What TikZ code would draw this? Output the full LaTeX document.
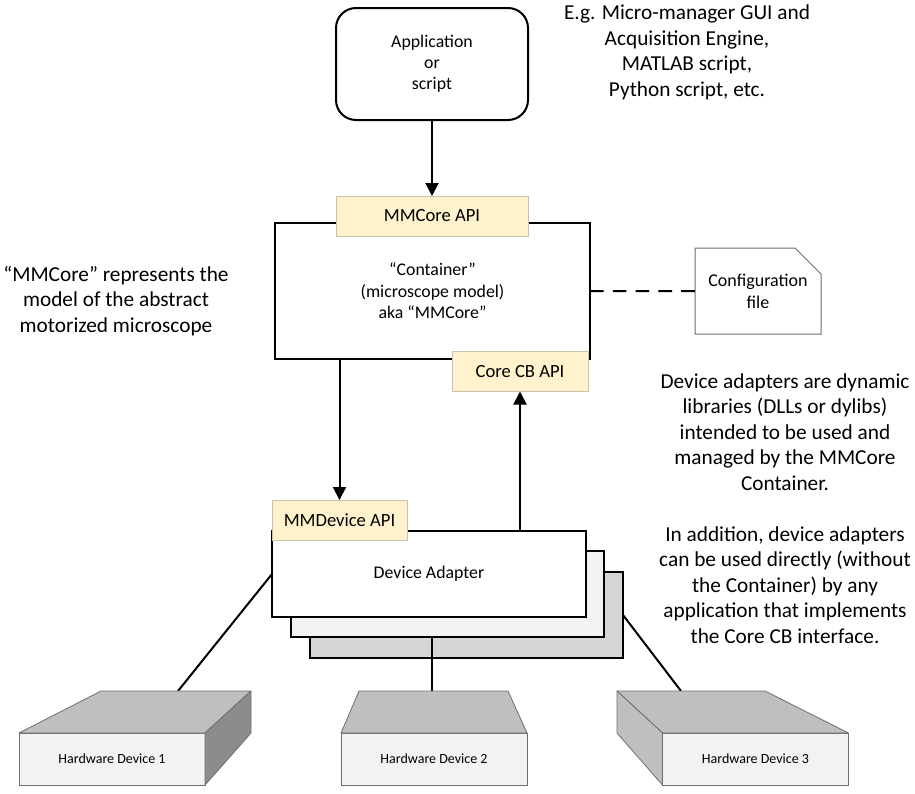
\documentclass[tikz,border=0pt]{standalone}
\usepackage{fontspec}
\setmainfont{Carlito}
\usetikzlibrary{arrows.meta,shapes.misc}

\definecolor{apifill}{HTML}{FFF2CC}
\definecolor{apiline}{HTML}{C9C3AE}
\definecolor{hwline}{HTML}{6E6E6E}

\tikzset{
    box size/.style 2 args={minimum width=#1*.5pt, minimum height=#2*.5pt},
    plainbox/.style={draw=black, line width=1pt, fill=white, inner sep=0pt, outer sep=0pt, align=center, font=\fontsize{8.9}{10.7}\selectfont},
    apibox/.style={draw=apiline, line width=.5pt, fill=apifill, inner sep=0pt, outer sep=0pt, font=\fontsize{9.3}{11}\selectfont},
    filebox/.style={draw=hwline, line width=.5pt, fill=white, inner sep=0pt, outer sep=0pt, align=center, chamfered rectangle, chamfered rectangle corners=north east, chamfered rectangle xsep=6.5pt, chamfered rectangle ysep=6.5pt, font=\fontsize{9}{11}\selectfont},
    note/.style={align=center, inner sep=0pt, font=\fontsize{10.65}{12.75}\selectfont},
    hwfront/.style={draw=hwline, line width=.4pt, fill=black!5, inner sep=0pt, outer sep=0pt, font=\fontsize{7}{8}\selectfont},
    hwface/.style={draw=hwline, line width=.4pt, line join=round},
    link/.style={line width=1pt},
    callarrow/.style={line width=1pt, -{Triangle[length=6.5pt,width=6.5pt]}}
}

\begin{document}
\begin{tikzpicture}[x=.5pt,y=-.5pt]
    \useasboundingbox (0,0) rectangle (915,793);

    % top part
    \node [plainbox, box size={192}{112}, rounded corners=10pt] (app) at (432,64) {\raisebox{-.5pt}{Application}\\or\\script};
    \node [plainbox, box size={315}{136}] (container) at (432.5,291) {“Container”\\(microscope model)\\aka “MMCore”};
    \node [apibox, box size={192}{40}] (mmcoreapi) at (432,216) {MMCore API};
    \node [apibox, box size={136}{40}] (corecbapi) at (520,371.5) {Core CB API};
    \draw [callarrow] (app) -- (mmcoreapi);

    % configuration file
    \node [filebox, box size={126}{86}] (config) at (758,291) {Configuration\\file};
    \draw [link, dash pattern=on 6.8pt off 4.6pt] (container) -- (config);

    % hardware devices
    \coordinate (hwtop1) at (178,691);
    \coordinate (hwtop2) at (432,691);
    \coordinate (hwtop3) at (681,691);

    % adapter stack
    \node [plainbox, box size={313}{86}, fill=black!16] (adapter3) at (466.5,615) {};
    \node [plainbox, box size={313}{86}, fill=black!5] (adapter2) at (447.5,594) {};
    \node [plainbox, box size={314}{86}] (adapter1) at (429,574) {\raisebox{-1pt}{Device Adapter}};
    \node [apibox, box size={135}{40}] (mmdeviceapi) at (339.5,520) {MMDevice API};

    \draw [callarrow] (container.south -| mmdeviceapi.north) -- (mmdeviceapi.north);
    \draw [callarrow] (adapter1.north -| corecbapi.south) -- (corecbapi.south);

    \draw [link] (adapter1.west) -- (hwtop1);
    \draw [link] (adapter2.south -| hwtop2) -- (hwtop2);
    \draw [link] (adapter3.east) -- (hwtop3);

    \node [hwfront, box size={186}{52}] (hw1) at (112,759) {Hardware Device 1};
    \draw [hwface, fill=black!25] (hw1.north west) -- (101,691) -- (251,691) -- (hw1.north east) -- cycle;
    \draw [hwface, fill=black!45] (hw1.north east) -- (251,691) -- (251,733) -- (hw1.south east) -- cycle;

    \node [hwfront, box size={186}{52}] (hw2) at (434,759) {Hardware Device 2};
    \draw [hwface, fill=black!25] (hw2.north west) -- (359,691) -- (508,691) -- (hw2.north east) -- cycle;

    \node [hwfront, box size={186}{52}] (hw3) at (755.5,759) {Hardware Device 3};
    \draw [hwface, fill=black!25] (hw3.north west) -- (617,691) -- (765,691) -- (hw3.north east) -- cycle;
    \draw [hwface, fill=black!25] (hw3.north west) -- (617,691) -- (617,733) -- (hw3.south west) -- cycle;

    % notes
    \node [note] (noteapp) at (687,52.5) {E.g. Micro-manager GUI and\\Acquisition Engine,\\MATLAB script,\\Python script, etc.};
    \node [note] (notecore) at (116,301) {“MMCore” represents the\\model of the abstract\\motorized microscope};
    \node [note] (noteadapter) at (785,508.5) {Device adapters are dynamic\\libraries (DLLs or dylibs)\\intended to be used and\\managed by the MMCore\\Container.\\[12.75pt]In addition, device adapters\\can be used directly (without\\the Container) by any\\application that implements\\the Core CB interface.};
\end{tikzpicture}
\end{document}
